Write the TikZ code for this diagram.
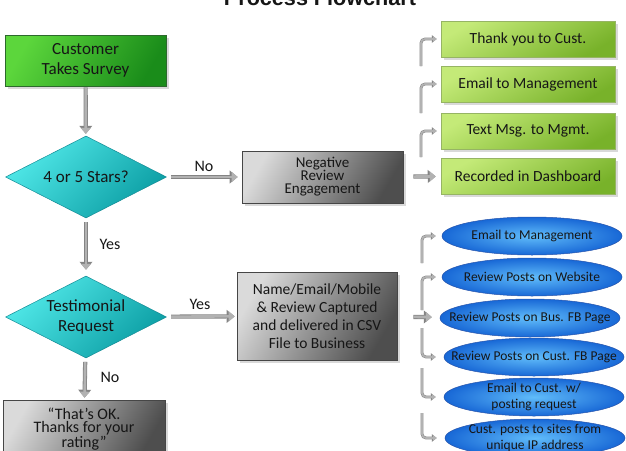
\documentclass[tikz,border=0pt]{standalone}
\usepackage{fontspec}
\setmainfont{Carlito}
\newfontfamily\headingfont{Liberation Sans}
\usetikzlibrary{shapes.geometric,arrows.meta,shadows}

\definecolor{startlight}{RGB}{92,214,60}
\definecolor{startdark}{RGB}{26,140,26}
\definecolor{startedge}{RGB}{45,105,45}
\definecolor{leaflight}{RGB}{196,234,120}
\definecolor{leafdark}{RGB}{120,178,42}
\definecolor{leafedge}{RGB}{150,180,100}
\definecolor{cyanlight}{RGB}{80,232,232}
\definecolor{cyandark}{RGB}{12,158,164}
\definecolor{cyanedge}{RGB}{20,140,150}
\definecolor{greylight}{RGB}{218,218,218}
\definecolor{greydark}{RGB}{78,78,78}
\definecolor{greyedge}{RGB}{70,70,70}
\definecolor{bluelight}{RGB}{96,188,250}
\definecolor{bluedark}{RGB}{24,104,214}
\definecolor{blueedge}{RGB}{40,84,170}
\definecolor{arrowfill}{RGB}{178,178,178}
\definecolor{arrowedge}{RGB}{132,132,132}
\definecolor{ink}{RGB}{22,22,22}

\begin{document}
\begin{tikzpicture}[x=1pt,y=-1pt,
  every node/.style={text=ink},
  softshadow/.style={drop shadow={opacity=0.3,shadow xshift=2.5pt,shadow yshift=-2.5pt}},
  startbox/.style={rectangle, draw=startedge, line width=0.6pt,
    top color=startlight, bottom color=startdark, shading angle=60,
    minimum width=161pt, minimum height=51pt, inner sep=2pt, align=center,
    font=\fontsize{17}{20}\selectfont, softshadow},
  leafbox/.style={rectangle, draw=leafedge, line width=0.5pt,
    top color=leaflight, bottom color=leafdark, shading angle=30,
    minimum width=174pt, minimum height=36pt, inner sep=2pt, align=center,
    font=\fontsize{15.5}{18}\selectfont, softshadow},
  greybox/.style={rectangle, draw=greyedge, line width=0.6pt,
    top color=greylight, bottom color=greydark, shading angle=60,
    inner sep=2pt, align=center, softshadow},
  decision/.style={diamond, aspect=2, draw=cyanedge, line width=0.5pt,
    top color=cyanlight, bottom color=cyandark, shading angle=45,
    minimum width=161pt, minimum height=82pt, inner sep=0pt, align=center,
    font=\fontsize{17}{20}\selectfont},
  blob/.style={ellipse, draw=blueedge, line width=0.5pt,
    shading=radial, inner color=bluelight, outer color=bluedark,
    minimum width=180pt, minimum height=38pt, inner sep=0pt},
  blobtext/.style={align=center, inner sep=0pt,
    font=\fontsize{13.5}{16}\selectfont},
  tag/.style={font=\fontsize{16}{18}\selectfont, inner sep=0pt},
  flowarrow/.style={draw=arrowfill, line width=2.6pt,
    -{Triangle[width=10pt,length=6pt]},
    preaction={draw=arrowedge, line width=4.2pt, -{Triangle[width=12.5pt,length=8pt]}}},
  hookarrow/.style={draw=arrowfill, line width=1.8pt, rounded corners=4pt,
    -{Triangle[width=6pt,length=4pt]},
    preaction={draw=arrowedge, line width=2.8pt, -{Triangle[width=7.5pt,length=5pt]}}}
]
\useasboundingbox (0,0) rectangle (626,450);
\clip (0,0) rectangle (626,450);

% heading
\node[font=\headingfont\fontsize{21.6}{24}\selectfont\bfseries, anchor=base, inner sep=0pt] (title) at (320,5) {Process Flowchart};

% main column
\node[startbox] (survey) at (85.5,60.5) {Customer\\Takes Survey};
\node[decision] (stars) at (86,177) {4 or 5 Stars?};
\node[decision] (testimonial) at (86,317) {Testimonial\\Request};
\node[greybox, minimum width=162pt, minimum height=58pt,
      font=\fontsize{16}{12.8}\selectfont] (thanks) at (84,429)
      {``That’s OK.\\Thanks for your\\rating''};

% middle column
\node[greybox, minimum width=161pt, minimum height=52pt,
      font=\fontsize{15}{13}\selectfont] (negative) at (322.5,177)
      {Negative\\Review\\Engagement};
\node[greybox, minimum width=160pt, minimum height=88pt,
      font=\fontsize{15.5}{18}\selectfont] (capture) at (317,316)
      {Name/Email/Mobile\\\& Review Captured\\and delivered in CSV\\File to Business};

% negative review actions
\node[leafbox] (thankyou) at (528,39) {Thank you to Cust.};
\node[leafbox] (mgmtmail) at (528,84) {Email to Management};
\node[leafbox] (textmsg) at (528,131) {Text Msg. to Mgmt.};
\node[leafbox] (dashboard) at (528,176) {Recorded in Dashboard};

% testimonial actions
\node[blob, label={[blobtext]center:Email to Management}] (emailmgmt) at (532,236) {};
\node[blob, label={[blobtext]center:Review Posts on Website}] (website) at (532,277) {};
\node[blob, label={[blobtext]center:Review Posts on Bus. FB Page}] (busfb) at (530,318) {};
\node[blob, label={[blobtext]center:Review Posts on Cust. FB Page}] (custfb) at (534,357) {};
\node[blob, label={[blobtext]center:{Email to Cust. w/\\posting request}}] (emailcust) at (534,397) {};
\node[blob, label={[blobtext]center:{Cust. posts to sites from\\unique IP address}}] (custposts) at (535,438) {};

% main flow
\draw[flowarrow, shorten <=1pt, shorten >=2pt] (survey) -- (stars);
\draw[flowarrow, shorten <=4pt, shorten >=4pt] (stars) -- (negative);
\draw[flowarrow, shorten <=4pt, shorten >=6pt] (stars) -- (testimonial);
\draw[flowarrow, shorten <=5pt, shorten >=2pt] (testimonial) -- (capture);
\draw[flowarrow, shorten <=4pt, shorten >=2pt] (testimonial) -- (thanks);
\draw[flowarrow, shorten <=10pt, shorten >=5pt] (negative) -- (dashboard);
\draw[flowarrow, shorten <=16pt, shorten >=8pt] (capture) -- (busfb);

\node[tag] (nolabel) at (204,166) {No};
\node[tag] (yeslabel) at (110,244) {Yes};
\node[tag] (yesright) at (200,304) {Yes};
\node[tag] (nodown) at (110,377) {No};

% branch hooks, upper group
\coordinate (u1) at (421,66);
\coordinate (u2) at (421,113);
\coordinate (u3) at (421,157);
\draw[hookarrow, shorten >=4pt] (u1) |- (thankyou);
\draw[hookarrow, shorten >=4pt] (u2) |- (mgmtmail);
\draw[hookarrow, shorten >=4pt] (u3) |- (textmsg);

% branch hooks, lower group
\coordinate (l1) at (422,263);
\coordinate (l2) at (422,310);
\coordinate (l4) at (422,328);
\coordinate (l5) at (422,368);
\coordinate (l6) at (422,413);
\draw[hookarrow, shorten >=6pt] (l1) |- (emailmgmt);
\draw[hookarrow, shorten >=6pt] (l2) |- (website);
\draw[hookarrow, shorten >=8pt] (l4) |- (custfb);
\draw[hookarrow, shorten >=8pt] (l5) |- (emailcust);
\draw[hookarrow, shorten >=8pt] (l6) |- (custposts);
\end{tikzpicture}
\end{document}
